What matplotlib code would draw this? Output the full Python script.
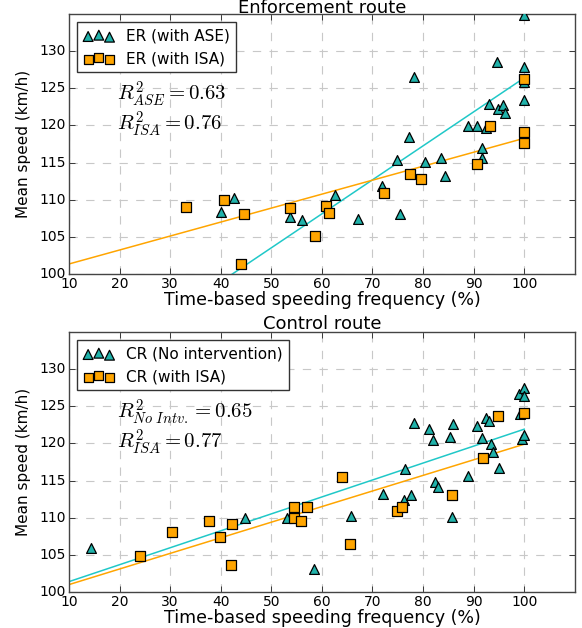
import numpy as np
import matplotlib
matplotlib.use('Agg')
import matplotlib.pyplot as plt

plt.style.use('classic')

# ---------------- data ----------------
er_ase_x = [40.0, 42.6, 53.6, 56.1, 62.5, 67.2, 71.8, 75.4, 74.8, 77.3, 78.2, 80.4, 83.5, 84.3,
            88.9, 90.6, 92.4, 91.6, 91.6, 93.0, 94.6, 94.8, 95.8, 96.2, 100.0, 100.0, 100.0, 100.0]
er_ase_y = [108.3, 110.2, 107.7, 107.3, 110.6, 107.4, 111.8, 108.1, 115.4, 118.4, 126.5, 115.1, 115.6, 113.2,
            119.9, 119.9, 119.6, 116.9, 115.6, 122.9, 128.6, 122.2, 122.7, 121.7, 127.8, 125.8, 123.4, 134.9]

er_isa_x = [33.2, 40.7, 44.6, 44.1, 53.6, 58.7, 60.8, 61.4, 72.3, 77.4, 79.6, 90.6, 93.3, 99.9, 99.9, 100.0]
er_isa_y = [109.0, 110.0, 108.1, 101.4, 108.9, 105.1, 109.1, 108.2, 110.9, 113.5, 112.8, 114.8, 119.9, 119.1, 117.7, 126.2]

cr_no_x = [14.4, 44.8, 53.0, 58.4, 65.8, 72.1, 76.3, 76.5, 77.6, 78.2, 81.2, 82.0, 82.4, 82.9, 85.4, 85.7,
           85.9, 88.9, 90.7, 91.6, 92.5, 93.1, 93.4, 93.8, 95.1, 99.0, 100.0, 100.0, 99.5, 100.0, 99.2]
cr_no_y = [105.9, 110.0, 110.0, 103.1, 110.2, 113.2, 112.4, 116.6, 113.1, 122.7, 122.0, 120.5, 114.8, 114.1, 120.9, 110.1,
           122.6, 115.6, 122.3, 120.8, 123.4, 123.0, 119.9, 118.9, 116.7, 126.7, 127.4, 126.4, 120.6, 121.1, 123.9]

cr_isa_x = [24.0, 30.3, 37.6, 39.8, 42.3, 42.0, 54.5, 54.5, 55.9, 57.1, 63.9, 65.5, 74.8, 75.9, 85.8, 91.8, 94.8, 99.9]
cr_isa_y = [104.8, 108.1, 109.5, 107.4, 109.1, 103.6, 111.4, 110.0, 109.6, 111.5, 115.5, 106.4, 110.9, 111.5, 113.1, 118.1, 123.7, 124.1]

# fitted regression lines as shown in the reference (slope, intercept)
er_ase_fit = [0.4575, 80.65]
er_isa_fit = [0.188, 99.47]
cr_no_fit = [0.228, 99.12]
cr_isa_fit = [0.210, 98.90]

x_ticks = list(range(10, 101, 10))
y_ticks = list(range(100, 131, 5))
fit_range = [10, 100]

panels = [
    dict(title='Enforcement route',
         tri=(er_ase_x, er_ase_y, 'ER (with ASE)', er_ase_fit),
         sq=(er_isa_x, er_isa_y, 'ER (with ISA)', er_isa_fit),
         text='$R^2_{ASE}=0.63$\n$R^2_{ISA}=0.76$', pad=0.5),
    dict(title='Control route',
         tri=(cr_no_x, cr_no_y, 'CR (No intervention)', cr_no_fit),
         sq=(cr_isa_x, cr_isa_y, 'CR (with ISA)', cr_isa_fit),
         text='$R^2_{No\\ Intv.}=0.65$\n$R^2_{ISA}=0.77$', pad=2),
]

tri_face = '#20B2AA'
sq_face = '#FFA500'
tri_line = '#20C8C8'
sq_line = '#FFA500'

fig = plt.figure(figsize=(5.82, 6.28), dpi=100)
fig.patch.set_facecolor('white')
axes = [fig.add_axes([0.1186, 0.5637, 0.869, 0.414]),
        fig.add_axes([0.1186, 0.0573, 0.869, 0.414])]

for ax, p in zip(axes, panels):
    ax.set_facecolor('white')
    tx, ty, tl, tf = p['tri']
    sx, sy, sl, sf = p['sq']
    ax.scatter(tx, ty, marker='^', s=50, facecolor=tri_face, edgecolor='black',
               linewidth=0.9, label=tl, zorder=3)
    ax.scatter(sx, sy, marker='s', s=42, facecolor=sq_face, edgecolor='black',
               linewidth=0.9, label=sl, zorder=3)
    xr = np.array(fit_range, dtype=float)
    ax.plot(xr, np.polyval(tf, xr), color=tri_line, lw=1.1, zorder=2)
    ax.plot(xr, np.polyval(sf, xr), color=sq_line, lw=1.1, zorder=2)

    ax.set_xlim(10, 110)
    ax.set_ylim(100, 135)
    ax.set_xticks(x_ticks)
    ax.set_yticks(y_ticks)
    ax.tick_params(labelsize=10, pad=2, direction='in', top=True, right=True)
    ax.grid(True, color='#c8c8c8', linestyle='--', linewidth=0.8)
    ax.set_axisbelow(True)
    for sp in ax.spines.values():
        sp.set_color('#444444')
        sp.set_linewidth(1.0)
    ax.set_xlabel('Time-based speeding frequency (%)', fontsize=12.5, labelpad=0)
    ax.set_ylabel('Mean speed (km/h)', fontsize=11, labelpad=6)
    ax.set_title(p['title'], fontsize=13, pad=p['pad'])
    ax.text(19.5, 122.2, p['text'], fontsize=15, ha='left', va='center', linespacing=1.0)
    leg = ax.legend(loc='upper left', fontsize=11, scatterpoints=3, frameon=True,
                    fancybox=False, borderaxespad=0.55, handletextpad=0.8)
    leg.get_frame().set_edgecolor('#333333')
    leg.get_frame().set_linewidth(1.0)

fig.savefig('out.png', dpi=100, facecolor='white')
